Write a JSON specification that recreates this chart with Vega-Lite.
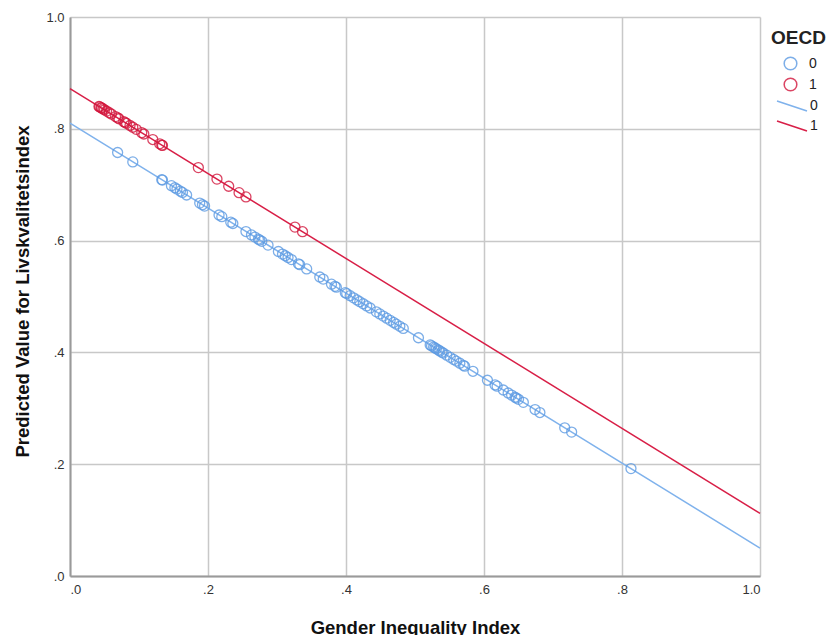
{
  "$schema": "https://vega.github.io/schema/vega-lite/v6.json",
  "width": 690,
  "height": 559,
  "autosize": {"type": "none"},
  "padding": {"left": 70, "top": 17, "right": 68, "bottom": 59},
  "background": "white",
  "config": {
    "font": "Liberation Sans",
    "view": {"stroke": null},
    "axis": {
      "grid": true,
      "gridColor": "#c8c8c8",
      "gridWidth": 1.5,
      "domainColor": "#9a9a9a",
      "domainWidth": 2,
      "ticks": false,
      "labelFont": "Liberation Sans",
      "labelFontSize": 13,
      "labelColor": "#333333",
      "titleFont": "Liberation Sans",
      "titleFontSize": 18.5,
      "titleFontWeight": "bold",
      "titleColor": "#111111"
    },
    "legend": {"padding": 0}
  },
  "datasets": {
    "points": [
      {"OECD": "0", "x": 0.069, "y": 0.7576},
      {"OECD": "0", "x": 0.091, "y": 0.7408},
      {"OECD": "0", "x": 0.133, "y": 0.7089},
      {"OECD": "0", "x": 0.134, "y": 0.7082},
      {"OECD": "0", "x": 0.147, "y": 0.6983},
      {"OECD": "0", "x": 0.152, "y": 0.6945},
      {"OECD": "0", "x": 0.155, "y": 0.6922},
      {"OECD": "0", "x": 0.160, "y": 0.6884},
      {"OECD": "0", "x": 0.163, "y": 0.6861},
      {"OECD": "0", "x": 0.169, "y": 0.6816},
      {"OECD": "0", "x": 0.188, "y": 0.6671},
      {"OECD": "0", "x": 0.192, "y": 0.6641},
      {"OECD": "0", "x": 0.195, "y": 0.6618},
      {"OECD": "0", "x": 0.216, "y": 0.6458},
      {"OECD": "0", "x": 0.220, "y": 0.6428},
      {"OECD": "0", "x": 0.233, "y": 0.6329},
      {"OECD": "0", "x": 0.236, "y": 0.6306},
      {"OECD": "0", "x": 0.255, "y": 0.6162},
      {"OECD": "0", "x": 0.263, "y": 0.6101},
      {"OECD": "0", "x": 0.268, "y": 0.6063},
      {"OECD": "0", "x": 0.273, "y": 0.6025},
      {"OECD": "0", "x": 0.275, "y": 0.6010},
      {"OECD": "0", "x": 0.278, "y": 0.5987},
      {"OECD": "0", "x": 0.287, "y": 0.5919},
      {"OECD": "0", "x": 0.302, "y": 0.5805},
      {"OECD": "0", "x": 0.308, "y": 0.5759},
      {"OECD": "0", "x": 0.312, "y": 0.5729},
      {"OECD": "0", "x": 0.316, "y": 0.5698},
      {"OECD": "0", "x": 0.321, "y": 0.5660},
      {"OECD": "0", "x": 0.331, "y": 0.5584},
      {"OECD": "0", "x": 0.333, "y": 0.5569},
      {"OECD": "0", "x": 0.343, "y": 0.5493},
      {"OECD": "0", "x": 0.362, "y": 0.5349},
      {"OECD": "0", "x": 0.367, "y": 0.5311},
      {"OECD": "0", "x": 0.379, "y": 0.5220},
      {"OECD": "0", "x": 0.384, "y": 0.5182},
      {"OECD": "0", "x": 0.386, "y": 0.5166},
      {"OECD": "0", "x": 0.399, "y": 0.5068},
      {"OECD": "0", "x": 0.401, "y": 0.5052},
      {"OECD": "0", "x": 0.406, "y": 0.5014},
      {"OECD": "0", "x": 0.411, "y": 0.4976},
      {"OECD": "0", "x": 0.416, "y": 0.4938},
      {"OECD": "0", "x": 0.420, "y": 0.4908},
      {"OECD": "0", "x": 0.425, "y": 0.4870},
      {"OECD": "0", "x": 0.430, "y": 0.4832},
      {"OECD": "0", "x": 0.435, "y": 0.4794},
      {"OECD": "0", "x": 0.444, "y": 0.4726},
      {"OECD": "0", "x": 0.449, "y": 0.4688},
      {"OECD": "0", "x": 0.454, "y": 0.4650},
      {"OECD": "0", "x": 0.459, "y": 0.4612},
      {"OECD": "0", "x": 0.464, "y": 0.4574},
      {"OECD": "0", "x": 0.469, "y": 0.4536},
      {"OECD": "0", "x": 0.473, "y": 0.4505},
      {"OECD": "0", "x": 0.478, "y": 0.4467},
      {"OECD": "0", "x": 0.483, "y": 0.4429},
      {"OECD": "0", "x": 0.505, "y": 0.4262},
      {"OECD": "0", "x": 0.522, "y": 0.4133},
      {"OECD": "0", "x": 0.524, "y": 0.4118},
      {"OECD": "0", "x": 0.527, "y": 0.4095},
      {"OECD": "0", "x": 0.529, "y": 0.4080},
      {"OECD": "0", "x": 0.531, "y": 0.4064},
      {"OECD": "0", "x": 0.534, "y": 0.4042},
      {"OECD": "0", "x": 0.536, "y": 0.4026},
      {"OECD": "0", "x": 0.539, "y": 0.4004},
      {"OECD": "0", "x": 0.541, "y": 0.3988},
      {"OECD": "0", "x": 0.546, "y": 0.3950},
      {"OECD": "0", "x": 0.551, "y": 0.3912},
      {"OECD": "0", "x": 0.556, "y": 0.3874},
      {"OECD": "0", "x": 0.560, "y": 0.3844},
      {"OECD": "0", "x": 0.565, "y": 0.3806},
      {"OECD": "0", "x": 0.570, "y": 0.3768},
      {"OECD": "0", "x": 0.572, "y": 0.3753},
      {"OECD": "0", "x": 0.584, "y": 0.3662},
      {"OECD": "0", "x": 0.605, "y": 0.3502},
      {"OECD": "0", "x": 0.616, "y": 0.3418},
      {"OECD": "0", "x": 0.619, "y": 0.3396},
      {"OECD": "0", "x": 0.628, "y": 0.3327},
      {"OECD": "0", "x": 0.635, "y": 0.3274},
      {"OECD": "0", "x": 0.640, "y": 0.3236},
      {"OECD": "0", "x": 0.645, "y": 0.3198},
      {"OECD": "0", "x": 0.647, "y": 0.3183},
      {"OECD": "0", "x": 0.650, "y": 0.3160},
      {"OECD": "0", "x": 0.657, "y": 0.3107},
      {"OECD": "0", "x": 0.674, "y": 0.2978},
      {"OECD": "0", "x": 0.681, "y": 0.2924},
      {"OECD": "0", "x": 0.717, "y": 0.2651},
      {"OECD": "0", "x": 0.727, "y": 0.2575},
      {"OECD": "0", "x": 0.813, "y": 0.1921},
      {"OECD": "1", "x": 0.042, "y": 0.8401},
      {"OECD": "1", "x": 0.043, "y": 0.8393},
      {"OECD": "1", "x": 0.045, "y": 0.8378},
      {"OECD": "1", "x": 0.046, "y": 0.8370},
      {"OECD": "1", "x": 0.048, "y": 0.8355},
      {"OECD": "1", "x": 0.050, "y": 0.8340},
      {"OECD": "1", "x": 0.053, "y": 0.8317},
      {"OECD": "1", "x": 0.057, "y": 0.8287},
      {"OECD": "1", "x": 0.060, "y": 0.8264},
      {"OECD": "1", "x": 0.066, "y": 0.8218},
      {"OECD": "1", "x": 0.069, "y": 0.8196},
      {"OECD": "1", "x": 0.071, "y": 0.8180},
      {"OECD": "1", "x": 0.078, "y": 0.8127},
      {"OECD": "1", "x": 0.080, "y": 0.8112},
      {"OECD": "1", "x": 0.082, "y": 0.8097},
      {"OECD": "1", "x": 0.087, "y": 0.8059},
      {"OECD": "1", "x": 0.091, "y": 0.8028},
      {"OECD": "1", "x": 0.096, "y": 0.7990},
      {"OECD": "1", "x": 0.104, "y": 0.7930},
      {"OECD": "1", "x": 0.107, "y": 0.7907},
      {"OECD": "1", "x": 0.120, "y": 0.7808},
      {"OECD": "1", "x": 0.130, "y": 0.7732},
      {"OECD": "1", "x": 0.133, "y": 0.7709},
      {"OECD": "1", "x": 0.134, "y": 0.7702},
      {"OECD": "1", "x": 0.186, "y": 0.7306},
      {"OECD": "1", "x": 0.213, "y": 0.7101},
      {"OECD": "1", "x": 0.230, "y": 0.6972},
      {"OECD": "1", "x": 0.245, "y": 0.6858},
      {"OECD": "1", "x": 0.255, "y": 0.6782},
      {"OECD": "1", "x": 0.326, "y": 0.6242},
      {"OECD": "1", "x": 0.337, "y": 0.6159}
    ],
    "fits": [
      {"fitGroup": "0", "x": 0, "y": 0.81},
      {"fitGroup": "0", "x": 1, "y": 0.05},
      {"fitGroup": "1", "x": 0, "y": 0.872},
      {"fitGroup": "1", "x": 1, "y": 0.112}
    ]
  },
  "encoding": {
    "x": {
      "field": "x", "type": "quantitative",
      "scale": {"domain": [0, 1], "nice": false, "zero": false},
      "axis": {
        "title": "Gender Inequality Index",
        "values": [0, 0.2, 0.4, 0.6, 0.8, 1],
        "labelExpr": "datum.value == 1 ? '1.0' : substring(format(datum.value, '.1f'), 1)",
        "labelPadding": 7,
        "titleY": 57,
        "titleBaseline": "alphabetic"
      }
    },
    "y": {
      "field": "y", "type": "quantitative",
      "scale": {"domain": [0, 1], "nice": false, "zero": false},
      "axis": {
        "title": "Predicted Value for Livskvalitetsindex",
        "values": [0, 0.2, 0.4, 0.6, 0.8, 1],
        "labelExpr": "datum.value == 1 ? '1.0' : substring(format(datum.value, '.1f'), 1)",
        "labelPadding": 6,
        "titleX": -42,
        "titleY": 274,
        "titleBaseline": "alphabetic"
      }
    }
  },
  "resolve": {"legend": {"color": "independent", "stroke": "independent"}},
  "layer": [
    {
      "data": {"name": "fits"},
      "mark": {"type": "line", "strokeWidth": 1.5},
      "encoding": {
        "color": {
          "field": "fitGroup", "type": "nominal",
          "scale": {"domain": ["0", "1"], "range": ["#7fb2ec", "#d81f47"]},
          "legend": {
            "title": null,
            "orient": "none",
            "legendX": 711,
            "legendY": 78,
            "symbolType": "M-1.5,-0.5L1.5,0.5",
            "symbolSize": 400,
            "symbolStrokeWidth": 1.5,
            "rowPadding": 1,
            "labelOffset": 7,
            "labelFontSize": 14,
            "labelColor": "#222222",
            "labelFont": "Liberation Sans"
          }
        }
      }
    },
    {
      "data": {"name": "points"},
      "mark": {"type": "point", "shape": "circle", "filled": false, "size": 100, "strokeWidth": 1.3, "opacity": 0.8},
      "encoding": {
        "stroke": {
          "field": "OECD", "type": "nominal",
          "scale": {"domain": ["0", "1"], "range": ["#5d9be3", "#d3173d"]},
          "legend": {
            "title": "OECD",
            "orient": "none",
            "legendX": 701,
            "legendY": 12,
            "titleFontSize": 19,
            "titleFontWeight": "bold",
            "titleColor": "#222222",
            "titlePadding": 8,
            "symbolOffset": 12,
            "symbolSize": 160,
            "symbolType": "circle",
            "symbolStrokeWidth": 1.5,
            "symbolFillColor": "transparent",
            "rowPadding": 2,
            "labelOffset": 11,
            "labelFontSize": 14,
            "labelColor": "#222222",
            "labelFont": "Liberation Sans"
          }
        }
      }
    }
  ]
}
